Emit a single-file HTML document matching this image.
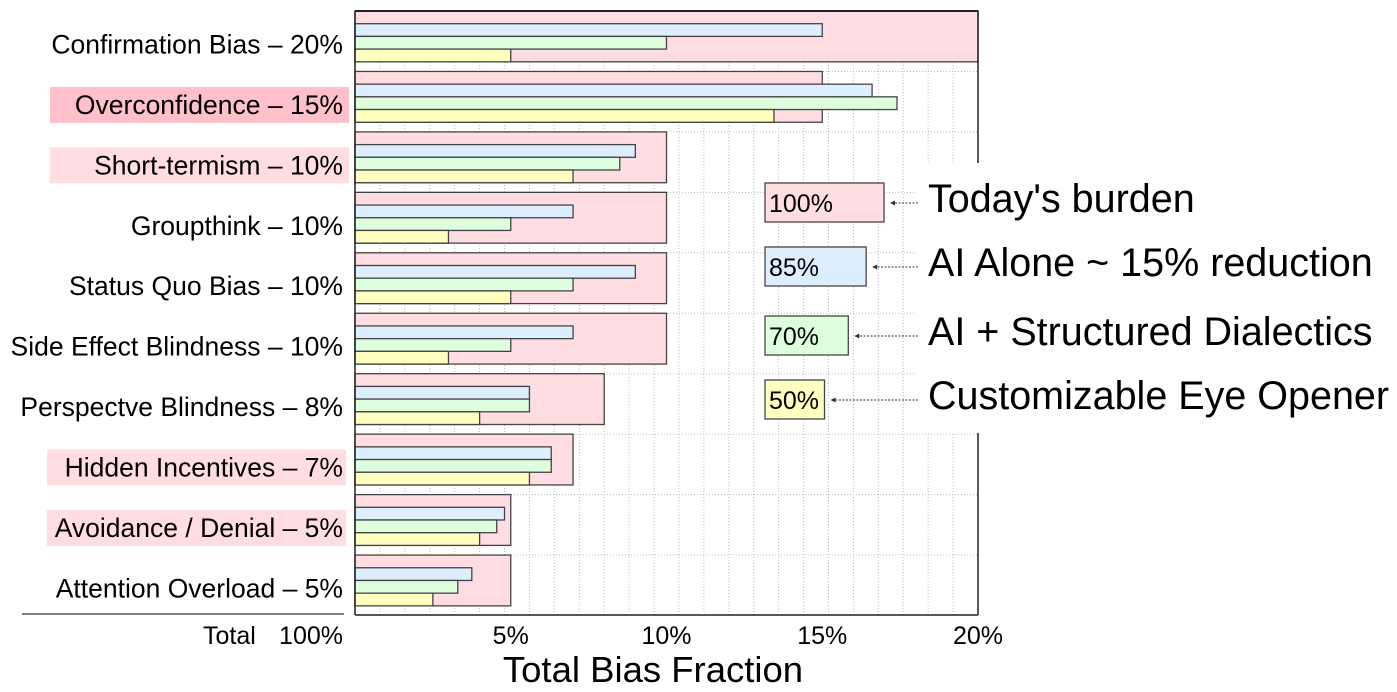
<!DOCTYPE html>
<html><head><meta charset="utf-8"><style>
body{margin:0;background:#fff;}
svg{display:block;font-family:"Liberation Sans",sans-serif;}
</style></head><body>
<svg id="chart" width="1397" height="692"></svg>
<script>
const categories=["Confirmation Bias – 20%","Overconfidence – 15%","Short-termism – 10%","Groupthink – 10%","Status Quo Bias – 10%","Side Effect Blindness – 10%","Perspectve Blindness – 8%","Hidden Incentives – 7%","Avoidance / Denial – 5%","Attention Overload – 5%"];
const todayBurden=[20,15,10,10,10,10,8,7,5,5];
const aiAlone=[15,16.6,9,7,9,7,5.6,6.3,4.8,3.75];
const aiDialectics=[10,17.4,8.5,5,7,5,5.6,6.3,4.55,3.3];
const eyeOpener=[5,13.45,7,3,5,3,4,5.6,4,2.5];
const highlight=["","strong","light","","","","","light","light",""];
const xTicks=[5,10,15,20];
const legendLabels=["Today's burden","AI Alone ~ 15% reduction","AI + Structured Dialectics","Customizable Eye Opener"];
const legendValues=[100,85,70,50];

const NS="http://www.w3.org/2000/svg";
const svg=document.getElementById('chart');
const X0=355,X1=978,Y0=11,ROW=60.45;
const xs=v=>X0+(X1-X0)*v/20;
function el(t,a,p){const e=document.createElementNS(NS,t);for(const k in a)e.setAttribute(k,a[k]);(p||svg).appendChild(e);return e;}
for(let i=1;i<25;i++){const g=el('line',{x1:xs(i*0.8),x2:xs(i*0.8),y1:Y0,y2:615,stroke:'#bbb','stroke-dasharray':'1,2'});

}
for(let i=1;i<10;i++){const g=el('line',{x1:X0,x2:X1,y1:Y0+ROW*i,y2:Y0+ROW*i,stroke:'#bbb','stroke-dasharray':'1,2'});

}
const colors=['#ffdde3','#ddeeff','#ddffdd','#ffffc0'];
const series=[todayBurden,aiAlone,aiDialectics,eyeOpener];
const snames=['bar-today','bar-ai-alone','bar-ai-dialectics','bar-eye-opener'];
categories.forEach((c,i)=>{
  const top=Y0+ROW*i, h=50.8, q=h/4;
  series.forEach((s,j)=>{
    const y=j===0?top:top+q*j, hh=j===0?h:q;
    const r=el('rect',{x:X0,y:y,width:xs(s[i])-X0,height:hh,fill:colors[j],stroke:'#444','stroke-width':1.3});
    
    
  });
  const cy=top+h/2+17;
  if(highlight[i]){
    const b=el('rect',{x:i===1||i===2?50:47,y:cy-27,width:299,height:36,fill:highlight[i]==='strong'?'#ffc0cb':'#ffdde3'});
    
    
  }
  const t=el('text',{x:343,y:cy,'text-anchor':'end','font-size':26.5,fill:'#000'});
  t.textContent=c;
  
  
});
el('line',{x1:X0,x2:X0,y1:Y0,y2:615,stroke:'#222','stroke-width':1.5});
el('line',{x1:X0,x2:X1,y1:615,y2:615,stroke:'#222','stroke-width':1.5});
el('line',{x1:X0,x2:X1,y1:Y0,y2:Y0,stroke:'#222','stroke-width':2});
el('line',{x1:X1,x2:X1,y1:Y0,y2:615,stroke:'#222','stroke-width':1.5});
el('line',{x1:22,x2:344,y1:614,y2:614,stroke:'#333','stroke-width':1.3});
const tt=el('text',{x:203,y:644,'font-size':25});tt.textContent='Total';


const tv=el('text',{x:343,y:644,'text-anchor':'end','font-size':25});tv.textContent='100%';


xTicks.forEach(v=>{const t=el('text',{x:xs(v),y:644,'text-anchor':'middle','font-size':25});t.textContent=v+'%';

});
const xt=el('text',{x:653,y:682,'text-anchor':'middle','font-size':36.5});xt.textContent='Total Bias Fraction';


el('rect',{x:916,y:163,width:481,height:270,fill:'#fff'});
const ly=[183,247,316,380];
legendLabels.forEach((l,j)=>{
  const w=119*legendValues[j]/100;
  const r=el('rect',{x:765,y:ly[j],width:w,height:39,fill:colors[j],stroke:'#444','stroke-width':1.3});
  
  
  const v=el('text',{x:769,y:ly[j]+29,'font-size':25});v.textContent=legendValues[j]+'%';
  
  
  el('line',{x1:918,x2:765+w+10,y1:ly[j]+20,y2:ly[j]+20,stroke:'#333','stroke-dasharray':'2,1.5'});
  el('path',{d:`M${765+w+6},${ly[j]+20} l5,-2.5 v5 z`,fill:'#333'});
  const t=el('text',{x:928,y:ly[j]+29,'font-size':39.5});t.textContent=l;
  
  
});
</script>
</body></html>
